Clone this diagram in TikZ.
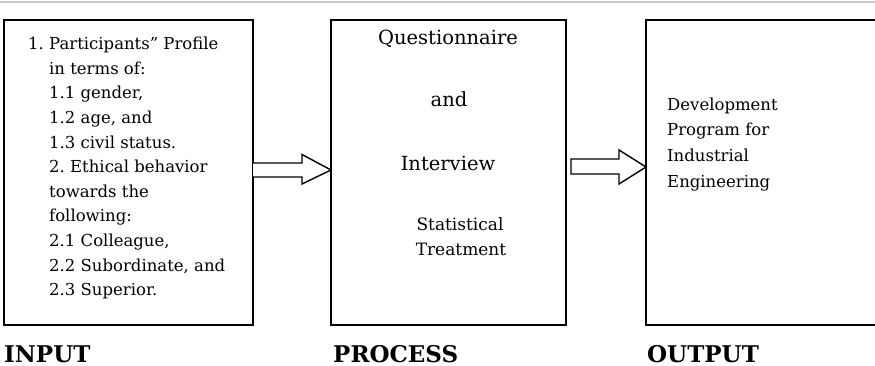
\documentclass[tikz,border=0pt]{standalone}
\usepackage{fontspec}
\setmainfont{DejaVu Serif}
\usetikzlibrary{calc}
\frenchspacing
\begin{document}
\begin{tikzpicture}[x=1pt,y=-1pt,
  stagebox/.style={draw=black, line width=1.5pt, rectangle, inner sep=0pt, outer sep=0pt, anchor=north west},
  blockarrow/.style={draw=black, line width=1.4pt, fill=white, line join=miter},
  smalltext/.style={font=\fontsize{16.5}{24.6}\selectfont, inner sep=0pt, align=left, anchor=north west},
  bigtext/.style={font=\fontsize{19.5}{24}\selectfont, inner sep=0pt, anchor=base},
  midtext/.style={font=\fontsize{17}{25}\selectfont, inner sep=0pt, anchor=base},
  stagelabel/.style={font=\fontsize{23}{26}\selectfont\bfseries, inner sep=0pt, anchor=base west}
]
\useasboundingbox (0,0) rectangle (875,366);
\clip (0,0) rectangle (875,366);
\fill[white] (0,0) rectangle (875,366);
% top rule
\draw[gray!45, line width=2pt] (0,2) -- (875,2);
% boxes
\node[stagebox, minimum width=249pt, minimum height=305pt] (in) at (4,20) {};
\node[stagebox, minimum width=235pt, minimum height=305pt] (proc) at (331,20) {};
\node[stagebox, minimum width=250pt, minimum height=305pt] (out) at (646,20) {};
% arrows
\draw[blockarrow] ($(in.east)+(0,-9.5)$) -- ($(proc.west)+(-29,-9.5)$) -- ($(proc.west)+(-29,-18)$)
  -- ($(proc.west)+(0,-2.5)$) -- ($(proc.west)+(-29,11.5)$) -- ($(proc.west)+(-29,4.5)$) -- ($(in.east)+(0,4.5)$);
\draw[blockarrow] ($(proc.east)+(5,-13.5)$) -- ($(out.west)+(-27,-13.5)$) -- ($(out.west)+(-27,-22.5)$)
  -- ($(out.west)+(0,-5.5)$) -- ($(out.west)+(-27,11.5)$) -- ($(out.west)+(-27,1.5)$)
  -- ($(proc.east)+(5,1.5)$) -- cycle;
% input text
\node[smalltext] (intext) at (49,37) {\llap{1. }Participants” Profile\\
in terms of:\\
1.1 gender,\\
1.2 age, and\\
1.3 civil status.\\
2. Ethical behavior\\
towards the\\
following:\\
2.1 Colleague,\\
2.2 Subordinate, and\\
2.3 Superior.};
% process text
\node[bigtext] (q) at (448,45) {Questionnaire};
\node[bigtext] (and) at (449,107) {and};
\node[bigtext] (iv) at (448,171) {Interview};
\node[midtext] (st) at (460,230.5) {Statistical};
\node[midtext] (tr) at (461,255.5) {Treatment};
% output text
\node[smalltext, font=\fontsize{16.5}{25.7}\selectfont] (outtext) at (667,97.5) {Development\\
Program for\\
Industrial\\
Engineering};
% labels
\node[stagelabel] (linput) at (4,362) {INPUT};
\node[stagelabel] (lproc) at (333,362) {PROCESS};
\node[stagelabel] (lout) at (647,362) {OUTPUT};
\end{tikzpicture}
\end{document}
